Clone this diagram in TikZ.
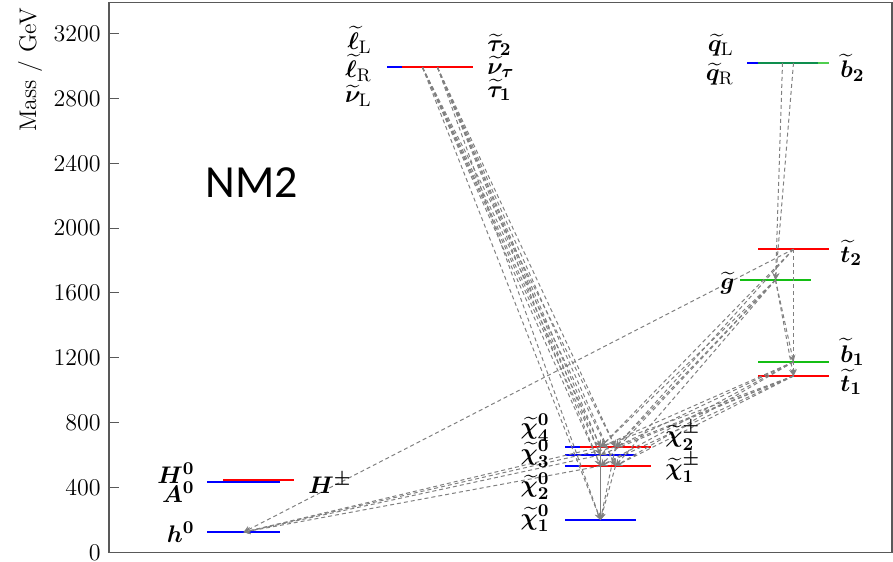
\documentclass[tikz,border=0pt]{standalone}
\usepackage{amsmath,bm}
\usepackage{fontspec}
\newfontfamily\nmfont{Carlito}
\definecolor{lvgreen}{RGB}{20,190,20}
\begin{document}
\begin{tikzpicture}[
  x=0.5pt, y=0.0811pt,
  >=stealth,
  level/.style={line width=1pt},
  decay/.style={->, gray, line width=0.5pt, dash pattern=on 2pt off 1.5pt},
  axislabel/.style={font=\fontsize{12}{14}\selectfont, inner sep=0pt},
  particle/.style={font=\fontsize{13}{15}\selectfont, inner sep=0pt}
]
\useasboundingbox (0,-58.6) rectangle (893,3406);

\draw[gray!70!black, line width=0.7pt] (109,0) rectangle (892,3392);
\foreach \m in {0,400,...,3200} {
  \draw[gray!70!black, line width=0.5pt] (109,\m) -- (119,\m);
  \node[axislabel, anchor=east] (tick\m) at (101,\m) {\m};
}
\node[axislabel, rotate=90] (masslabel) at (30,2975) {Mass / GeV};
\node[font=\nmfont\fontsize{23}{26}\selectfont] (title) at (252,2278) {NM2};

% mass levels
\draw[level, blue] (207,125) -- (280,125);
\draw[level, blue] (207,435) -- (280,435);
\draw[level, red] (223,447) -- (294,447);

\draw[level, blue] (565,200) -- (636,200);
\draw[level, blue] (565,533) -- (636,533);
\draw[level, blue] (565,601) -- (636,601);
\draw[level, blue] (565,650) -- (636,650);
\draw[level, red] (580,533) -- (651,533);
\draw[level, red] (580,650) -- (651,650);

\draw[level, blue] (387,2990) -- (458,2990);
\draw[level, red] (402,2990) -- (473,2990);

\draw[level, blue] (747,3018) -- (818,3018);
\draw[level, lvgreen, opacity=0.75] (758,3018) -- (829,3018);
\draw[level, red] (758,1870) -- (829,1870);
\draw[level, lvgreen] (740,1680) -- (811,1680);
\draw[level, lvgreen] (758,1175) -- (829,1175);
\draw[level, red] (758,1088) -- (829,1088);

\coordinate (h0) at (243.5,125);
\coordinate (n1) at (600.5,200);
\coordinate (n2) at (600.5,533);
\coordinate (n3) at (600.5,601);
\coordinate (n4) at (600.5,650);
\coordinate (c1) at (615.5,533);
\coordinate (c2) at (615.5,650);
\coordinate (snu) at (422.5,2990);
\coordinate (stau) at (437.5,2990);
\coordinate (sqL) at (782.5,3018);
\coordinate (sb2) at (793.5,3018);
\coordinate (st2) at (793.5,1870);
\coordinate (gl) at (775.5,1680);
\coordinate (sb1) at (793.5,1175);
\coordinate (st1) at (793.5,1088);

% decays
\foreach \a in {snu,stau}
  \foreach \b in {n1,n2,n3,n4,c1,c2}
    \draw[decay] (\a) -- (\b);
\draw[decay] (sqL) -- (gl);
\draw[decay] (sb2) -- (gl);
\draw[decay] (st2) -- (st1);
\draw[decay] (gl) -- (sb1);
\draw[decay] (gl) -- (st1);
\draw[decay] (st2) -- (h0);
\foreach \b in {n4,c2}
  \draw[decay] (st2) -- (\b);
\foreach \b in {n2,n4,c1,c2}
  \draw[decay] (gl) -- (\b);
\foreach \b in {n2,n4,c1,c2}
  \draw[decay] (sb1) -- (\b);
\foreach \b in {n2,n3,n4,c1,c2}
  \draw[decay] (st1) -- (\b);
\foreach \a in {n2,n3,n4,c2}
  \draw[decay] (\a) -- (h0);
\foreach \a in {n2,n3,n4,c1,c2}
  \draw[decay] (\a) -- (n1);

% particle labels
\node[particle, anchor=east] (lh0) at (195,126) {$\bm{h}^{\bm{0}}$};
\node[particle, anchor=east] (lH0) at (195,488) {$\bm{H}^{\bm{0}}$};
\node[particle, anchor=east] (lA0) at (195,370) {$\bm{A}^{\bm{0}}$};
\node[particle, anchor=west] (lHpm) at (308,429) {$\bm{H}^{\bm{\pm}}$};

\node[particle, anchor=east] (ln4) at (550,770) {$\widetilde{\bm{\chi}}^{\bm{0}}_{\bm{4}}$};
\node[particle, anchor=east] (ln3) at (550,610) {$\widetilde{\bm{\chi}}^{\bm{0}}_{\bm{3}}$};
\node[particle, anchor=east] (ln2) at (550,410) {$\widetilde{\bm{\chi}}^{\bm{0}}_{\bm{2}}$};
\node[particle, anchor=east] (ln1) at (550,210) {$\widetilde{\bm{\chi}}^{\bm{0}}_{\bm{1}}$};
\node[particle, anchor=west] (lc2) at (665,722) {$\widetilde{\bm{\chi}}^{\bm{\pm}}_{\bm{2}}$};
\node[particle, anchor=west] (lc1) at (665,521) {$\widetilde{\bm{\chi}}^{\bm{\pm}}_{\bm{1}}$};

\node[particle, anchor=east] (llL) at (372,3160) {$\widetilde{\bm{\ell}}_{\mathrm{L}}$};
\node[particle, anchor=east] (llR) at (372,2987) {$\widetilde{\bm{\ell}}_{\mathrm{R}}$};
\node[particle, anchor=east] (lnuL) at (372,2814) {$\widetilde{\bm{\nu}}_{\mathrm{L}}$};
\node[particle, anchor=west] (ltau2) at (487,3129) {$\widetilde{\bm{\tau}}_{\bm{2}}$};
\node[particle, anchor=west] (lnutau) at (487,2993) {$\widetilde{\bm{\nu}}_{\bm{\tau}}$};
\node[particle, anchor=west] (ltau1) at (487,2851) {$\widetilde{\bm{\tau}}_{\bm{1}}$};

\node[particle, anchor=east] (lqL) at (734,3129) {$\widetilde{\bm{q}}_{\mathrm{L}}$};
\node[particle, anchor=east] (lqR) at (734,2950) {$\widetilde{\bm{q}}_{\mathrm{R}}$};
\node[particle, anchor=west] (lb2) at (840,2987) {$\widetilde{\bm{b}}_{\bm{2}}$};
\node[particle, anchor=west] (lt2) at (840,1847) {$\widetilde{\bm{t}}_{\bm{2}}$};
\node[particle, anchor=east] (lgl) at (735,1662) {$\widetilde{\bm{g}}$};
\node[particle, anchor=west] (lb1) at (840,1236) {$\widetilde{\bm{b}}_{\bm{1}}$};
\node[particle, anchor=west] (lt1) at (840,1051) {$\widetilde{\bm{t}}_{\bm{1}}$};

\end{tikzpicture}
\end{document}
